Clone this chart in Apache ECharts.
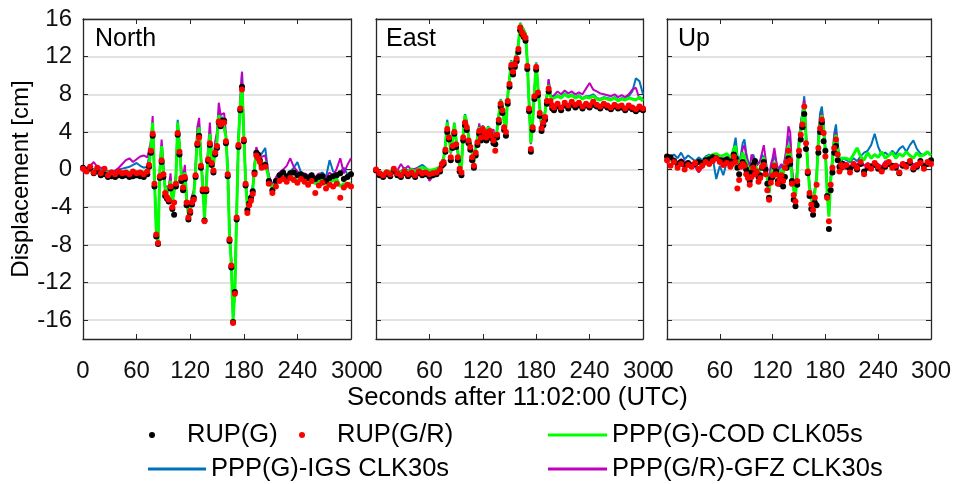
<!DOCTYPE html>
<html><head><meta charset="utf-8">
<script src="https://cdn.jsdelivr.net/npm/echarts@6/dist/echarts.min.js"></script>
<style>html,body{margin:0;padding:0;background:#fff}#c{width:954px;height:484px}</style>
</head><body><div id="c"></div>
<script>
const seconds = [0,4,8,12,16,20,24,28,32,36,40,44,48,52,56,60,64,68,72,
  74,76,78,80,82,84,86,88,90,92,94,96,98,100,102,104,106,108,110,112,114,116,118,120,122,124,126,128,130,132,134,136,138,140,142,144,146,148,150,152,154,156,158,160,162,164,166,168,170,172,174,176,178,180,182,184,186,188,190,192,194,196,198,200,
  204,208,212,216,220,224,228,232,236,240,244,248,252,256,260,264,268,272,276,280,284,288,292,296,300];
const panelTitles = ['North','East','Up'];
const seriesNames = ['RUP(G)','RUP(G/R)','PPP(G)-COD CLK05s','PPP(G)-IGS CLK30s','PPP(G/R)-GFZ CLK30s'];
const xTickStep = 60;
const yTickLabels = [-16,-12,-8,-4,0,4,8,12,16];

// ---- North ----
const northRupGR = [0.1,-0.2,0.3,-0.3,0.2,-0.4,0.1,-0.6,-0.3,-0.5,-0.2,-0.4,-0.3,-0.5,-0.2,-0.4,-0.3,-0.5,-0.2,
  0.5,2.0,3.8,-1.5,-6.9,-7.8,-0.7,1.0,-0.5,-2.5,-2.9,-3.2,-1.8,-4.0,-3.5,-1.5,3.9,1.9,-0.9,-1.9,-0.8,-3.5,-5.1,-4.4,-3.5,-3.2,-0.6,2.8,3.4,0.4,-2.1,-5.5,-2.1,1.1,2.8,0.7,-0.1,1.8,2.5,5.1,4.8,5.0,5.0,3.0,-0.5,-7.4,-10.2,-16.3,-13.2,-5.1,2.6,6.5,8.5,3.2,-1.5,-4.6,-3.8,-3.3,-2.6,-0.5,1.5,1.2,0.8,0.2,
  0.3,-1.5,-2.5,-1.8,-1.2,-1.0,-1.3,-0.9,-1.1,-1.4,-1.0,-1.3,-1.6,-1.2,-2.5,-1.7,-1.4,-2.0,-1.6,-1.8,-1.5,-3.0,-1.9,-1.6,-1.8];
const northRupG = [0.2,-0.1,0.1,-0.4,-0.2,-0.6,-0.5,-0.8,-0.7,-0.8,-0.6,-0.7,-0.6,-0.8,-0.7,-0.6,-0.7,-0.8,-0.5,
  0.3,1.8,3.6,-1.8,-7.1,-7.9,-0.9,0.8,-0.8,-2.8,-3.1,-3.4,-2.0,-4.2,-4.8,-1.8,3.7,1.6,-1.2,-2.2,-1.0,-3.8,-5.3,-4.6,-3.7,-3.0,-0.8,2.6,3.6,0.2,-2.3,-5.4,-2.3,0.9,2.6,0.5,-0.3,1.6,2.3,5.0,4.6,5.2,5.2,2.8,-0.7,-7.6,-10.4,-16.2,-13.0,-5.3,2.4,6.3,8.8,3.0,-1.7,-4.3,-3.6,-3.0,-2.3,-0.3,1.8,1.6,1.0,0.4,
  0.5,-1.2,-2.2,-1.2,-0.6,-0.3,-0.7,-0.4,-0.3,-0.6,-0.5,-0.7,-0.9,-0.6,-1.0,-0.8,-0.7,-1.2,-0.9,-0.7,-0.6,-0.4,-1.0,-0.8,-0.5];
const northCod = [0.1,0.0,0.2,-0.2,0.0,-0.3,-0.2,-0.4,-0.3,-0.4,-0.3,-0.3,-0.2,-0.3,-0.2,-0.3,-0.2,-0.3,-0.1,
  0.4,2.5,5.0,-1.0,-6.5,-7.6,-0.3,2.5,0.0,-2.2,-2.6,-2.8,-1.2,-3.6,-3.8,-1.0,5.0,2.5,-0.6,-1.6,-0.3,-3.2,-4.8,-4.0,-3.2,-2.8,-0.2,3.5,4.5,1.0,-1.8,-5.2,-1.8,1.5,3.8,1.2,0.3,2.3,3.0,5.8,5.0,5.3,5.5,3.5,-0.2,-7.0,-10.0,-16.0,-13.0,-4.8,3.0,6.8,9.0,3.6,-1.2,-4.1,-3.4,-3.0,-2.2,0.2,1.8,1.6,1.2,0.5,
  0.8,-1.0,-2.0,-1.3,-1.0,-0.8,-1.1,-0.7,-0.9,-1.2,-0.9,-1.0,-1.3,-1.1,-1.5,-1.2,-1.0,-1.6,-1.3,-1.2,-1.0,-1.8,-1.5,-1.6,-1.4];
const northIgs = [0.2,0.1,0.3,0.0,0.2,-0.1,0.0,-0.2,-0.1,-0.2,0.0,0.1,0.2,0.3,0.5,0.7,0.4,0.2,0.3,
  0.4,2.6,5.0,-1.0,-6.4,-7.5,-0.2,2.6,0.1,-2.1,-2.5,-2.6,-1.0,-3.5,-3.7,-0.8,5.3,2.7,-0.5,-1.5,-0.2,-3.1,-4.6,-3.8,-3.0,-2.6,0.0,3.6,4.7,1.2,-1.6,-5.0,-1.6,1.7,4.0,1.3,0.4,2.5,3.3,6.2,5.3,5.6,5.8,3.6,0.0,-6.8,-9.8,-15.8,-12.8,-4.6,3.2,7.0,10.4,3.8,-1.0,-3.9,-3.2,-2.8,-2.0,0.4,2.0,1.8,1.4,1.5,
  2.3,-0.8,-1.8,-1.0,-0.5,-0.3,-0.6,-0.2,0.2,0.8,-0.3,-0.5,-0.6,-0.4,-0.9,-0.5,-0.3,-0.8,1.0,-0.2,-0.4,-0.3,0.2,-0.5,-0.3];
const northGfz = [-0.3,0.2,0.4,0.8,0.3,0.2,0.0,-0.3,-0.2,-0.1,0.2,0.6,1.0,1.2,0.8,1.1,1.4,1.5,1.3,
  1.2,3.0,5.7,-0.8,-6.2,-7.4,0.2,3.2,0.5,-1.8,-2.0,-1.8,-0.4,-3.2,-3.4,-0.5,4.8,2.6,0.2,-1.0,0.5,-2.8,-4.4,-3.5,-2.8,-2.2,0.5,4.5,5.5,1.5,-1.2,-4.8,-1.2,2.2,5.0,1.8,0.8,3.0,4.0,7.1,5.8,6.0,6.0,3.8,0.2,-6.6,-9.6,-15.6,-12.6,-4.4,3.4,7.4,10.4,4.0,-0.8,-3.7,-3.0,-2.6,-1.8,0.6,2.4,1.8,1.3,1.2,
  1.5,-0.6,-1.6,-0.8,-0.3,0.0,0.4,1.2,0.3,-0.2,-0.5,-0.4,-0.6,-0.5,-0.8,-0.4,-0.6,-0.9,-0.3,-0.7,0.1,1.2,-0.4,0.5,1.2];

// ---- East ----
const eastRupGR = [0.0,-0.4,-0.6,-0.3,-0.5,0.1,-0.4,-0.6,-0.2,-0.5,-0.3,-0.6,-0.2,-0.4,-0.3,-0.5,-0.4,-0.3,0.0,
  0.6,0.8,2.1,4.3,3.4,1.3,2.5,4.0,2.7,1.3,0.1,-0.3,3.4,5.0,4.5,3.1,2.4,1.3,0.4,1.8,2.9,4.1,3.4,4.3,3.9,3.4,4.0,4.1,3.6,3.1,2.0,3.7,5.3,7.0,6.3,4.5,4.0,7.3,9.1,11.1,10.4,11.2,11.8,12.8,15.1,14.6,14.3,14.0,11.0,6.5,2.2,4.5,7.8,10.9,8.2,6.0,4.4,5.0,5.6,7.3,8.6,7.3,6.8,6.6,
  7.0,6.6,7.1,6.8,7.2,6.9,7.1,6.7,7.0,6.8,7.2,6.9,6.7,7.0,6.8,6.6,6.9,6.7,6.8,6.5,6.8,6.6,6.4,6.7,6.5];
const eastRupG = [-0.1,-0.6,-0.8,-0.5,-0.7,-0.2,-0.6,-0.8,-0.4,-0.7,-0.5,-0.8,-0.4,-0.6,-0.5,-0.7,-0.6,-0.5,-0.2,
  0.4,0.6,1.9,4.0,3.2,1.0,2.3,3.8,2.4,1.0,-0.2,-0.6,3.1,4.7,4.2,2.8,2.1,1.0,0.2,1.5,2.6,3.8,3.1,4.0,3.6,3.1,3.7,3.8,3.3,2.8,2.7,3.4,5.0,6.7,6.0,4.2,3.6,7.0,8.8,10.8,10.1,10.9,11.5,12.5,14.8,14.4,14.1,13.7,10.7,6.2,1.9,4.2,7.5,10.6,7.9,5.7,4.1,4.7,5.3,7.0,8.3,7.0,6.5,6.3,
  6.7,6.3,6.8,6.5,6.9,6.6,6.8,6.5,6.8,6.6,6.9,6.7,6.5,6.8,6.6,6.4,6.7,6.5,6.6,6.3,6.6,6.4,6.2,6.4,6.3];
const eastCod = [0.0,-0.3,-0.4,-0.1,-0.3,0.1,-0.2,-0.3,0.0,-0.2,0.0,-0.2,0.1,0.2,0.1,-0.1,0.0,0.1,0.3,
  0.8,1.2,2.6,5.0,3.8,1.8,3.0,4.9,3.2,1.8,0.5,0.2,3.8,5.8,5.0,3.5,2.8,1.8,0.8,2.2,3.4,4.5,3.8,4.6,4.2,3.8,4.5,4.6,4.0,3.5,2.6,4.2,5.8,7.4,6.8,5.0,4.5,7.8,9.6,11.5,10.9,11.6,12.3,13.3,15.5,15.1,14.8,14.4,11.5,7.0,2.8,5.0,8.3,11.3,8.7,6.5,4.9,5.5,6.1,7.8,9.0,7.8,7.5,7.3,
  7.8,7.6,8.0,7.7,7.9,7.6,7.8,7.5,7.7,7.6,7.8,7.5,7.4,7.6,7.5,7.4,7.6,7.3,7.5,7.4,7.6,7.5,7.4,7.7,7.3];
const eastIgs = [0.0,-0.3,-0.4,-0.1,-0.2,0.2,-0.1,-0.2,0.2,-0.1,0.1,0.0,0.3,0.5,0.2,-0.6,-0.4,-0.1,0.2,
  0.9,1.3,2.8,5.3,3.9,1.9,3.1,5.0,3.3,1.9,0.6,0.3,3.9,5.9,5.1,3.6,2.9,1.9,0.9,2.3,3.5,4.7,3.9,4.7,4.3,3.9,4.6,4.7,4.1,3.6,2.7,4.3,5.9,7.5,6.9,5.1,4.6,7.9,9.7,11.6,11.0,11.7,12.4,13.4,15.6,15.2,14.9,14.5,11.6,7.1,2.9,5.1,8.4,11.4,8.8,6.6,5.0,5.6,6.2,8.0,9.5,8.0,7.6,7.4,
  7.9,7.7,8.1,7.8,8.0,7.7,7.9,7.6,7.8,7.8,8.0,7.6,7.5,7.7,7.6,7.5,7.7,7.4,7.6,7.5,7.8,8.3,9.7,9.4,8.0];
const eastGfz = [0.0,-0.3,-0.5,-0.2,-0.3,0.1,-0.1,0.6,0.0,0.4,-0.1,0.1,0.2,-0.2,0.0,-1.2,-0.7,-0.3,0.1,
  0.7,1.1,2.5,4.9,3.7,1.7,2.9,4.8,3.1,1.7,0.4,0.1,3.7,5.6,4.9,3.4,2.7,1.7,0.7,2.1,3.3,4.9,3.7,4.5,4.1,3.7,4.4,4.5,3.9,4.3,2.5,4.1,5.7,7.3,6.7,4.9,4.4,7.7,9.5,11.4,10.8,11.5,12.2,13.2,15.4,15.0,14.7,14.3,11.4,6.9,2.7,4.9,8.2,11.2,8.6,6.4,4.2,5.4,6.0,7.9,9.6,8.0,7.7,7.8,
  8.3,8.0,8.4,8.1,8.3,8.0,8.2,8.0,8.6,9.2,8.5,8.3,8.1,8.0,7.9,7.8,8.0,7.7,7.9,7.7,8.0,8.5,8.7,7.5,7.6];

// ---- Up ----
const upRupGR = [1.0,0.4,0.8,0.2,0.6,0.0,0.5,0.3,0.7,0.1,0.4,0.8,0.6,0.9,1.2,0.8,0.5,0.7,0.3,
  0.6,1.4,0.8,-2.0,-1.1,0.3,0.6,0.4,-0.5,-0.9,-1.6,-0.8,0.2,-0.5,-0.2,-1.3,-0.9,0.3,0.5,-0.5,-2.2,-3.2,-1.4,-0.6,0.4,-0.5,-1.5,-1.0,-0.6,-1.2,0.2,0.8,2.0,1.0,-1.5,-2.7,-3.4,-1.2,2.0,3.7,4.8,6.7,2.8,-0.2,-2.5,-3.7,-4.3,-3.0,-1.6,2.3,4.4,5.3,3.9,1.4,-3.0,-5.5,-1.6,0.2,2.3,3.2,1.6,-0.2,0.5,0.3,
  0.5,-0.3,0.6,0.2,0.8,-0.5,0.4,0.1,0.7,0.3,-0.2,0.5,0.8,0.2,0.4,-0.3,0.6,0.3,0.9,0.2,0.5,0.7,0.1,0.8,0.6];
const upRupG = [1.4,1.3,0.9,0.6,0.8,0.5,0.7,0.4,0.6,0.8,0.7,1.0,1.1,1.3,1.2,1.0,0.9,1.1,0.8,
  0.9,1.6,1.2,0.2,-0.5,0.4,0.8,0.5,0.0,-0.6,-1.2,-0.3,0.5,0.9,-0.5,-0.8,-0.6,0.2,0.8,0.0,-1.5,-3.0,-1.0,-0.8,0.3,-0.2,-1.2,-1.5,-0.8,-1.8,-0.8,0.2,1.2,0.6,-1.2,-3.2,-3.9,-1.6,1.5,3.2,4.5,5.9,2.2,-0.4,-2.8,-4.2,-4.8,-3.5,-3.8,1.8,4.0,5.0,3.0,2.0,-2.8,-6.3,-2.2,-0.3,1.8,2.5,1.0,0.3,0.2,0.6,
  0.3,0.1,0.4,0.0,0.6,-0.2,0.2,0.3,0.5,0.1,0.0,0.3,0.6,0.4,0.2,-0.4,0.4,0.5,0.7,0.0,0.3,0.9,0.4,0.6,1.0];
const upCod = [0.8,1.1,0.9,0.5,1.0,0.6,0.8,0.5,0.7,0.9,0.8,1.2,1.4,1.6,1.7,1.4,1.5,1.7,1.2,
  1.2,2.2,2.5,1.0,0.2,1.0,1.8,2.0,0.8,0.2,-0.5,0.3,1.0,0.5,0.1,-0.5,0.2,0.8,1.3,0.5,-1.0,-2.5,-0.6,0.0,0.8,0.2,-0.8,-0.5,0.0,-0.6,0.6,1.2,2.6,1.8,-0.8,-2.2,-2.8,-0.6,2.6,4.2,5.5,7.0,3.3,0.3,-2.0,-3.2,-3.6,-2.4,-1.0,2.8,5.0,5.8,4.2,1.8,-2.5,-5.0,-1.2,0.8,3.0,3.7,2.2,0.8,1.2,1.0,
  1.2,1.0,1.6,2.3,1.4,1.0,1.8,1.2,1.6,1.3,1.9,1.2,1.5,1.8,1.2,1.7,1.4,1.9,1.5,1.2,1.8,1.4,1.6,1.9,1.5];
const upIgs = [1.0,1.4,1.6,1.2,1.8,1.1,1.5,1.2,0.9,1.3,1.0,1.4,1.6,1.2,-1.0,0.4,-0.6,0.8,1.2,
  1.5,2.4,3.4,1.5,0.8,1.6,2.8,3.2,1.8,0.9,0.3,1.2,1.6,1.0,0.5,0.3,0.8,1.6,1.8,1.0,-0.5,-1.5,0.2,0.8,1.5,0.8,-0.2,0.1,0.4,0.0,1.0,2.0,3.6,3.0,-0.2,-1.6,-2.2,0.0,3.2,4.8,6.2,7.8,3.8,0.6,-1.6,-2.8,-3.3,-2.0,-0.6,3.6,6.0,6.7,4.8,2.4,-2.0,-4.6,-0.8,1.4,3.8,4.8,2.8,1.2,0.8,1.2,
  1.0,0.8,1.2,0.9,1.4,1.8,2.0,2.6,3.8,2.4,1.6,1.8,1.5,2.0,1.6,2.2,2.5,1.9,2.6,3.1,2.2,1.7,1.5,1.8,1.6];
const upGfz = [0.6,1.0,1.2,0.8,1.1,0.9,0.5,0.7,0.3,-0.3,0.2,0.6,0.9,1.3,1.0,1.5,1.2,0.9,0.8,
  1.0,1.8,2.0,0.8,0.3,1.2,2.2,2.6,1.5,0.6,0.0,1.6,1.2,0.8,0.4,0.2,1.0,1.8,2.6,1.2,-0.3,-1.5,0.5,1.2,2.3,1.0,0.0,0.3,0.6,0.2,1.2,2.5,4.6,4.0,0.2,-1.4,-2.0,0.2,3.3,4.9,6.0,7.4,3.8,0.5,-1.8,-3.0,-3.4,-2.2,-0.8,3.2,5.4,6.0,4.4,2.0,-2.2,-4.8,-1.0,1.0,3.2,4.0,2.4,0.6,0.4,0.8,
  0.6,0.3,0.8,0.5,0.9,0.4,0.7,0.5,0.8,0.6,0.3,0.9,0.7,0.5,0.6,0.4,0.8,0.5,0.7,0.6,0.4,0.9,0.5,0.7,0.6];

const FONT = "'Liberation Sans', Arial, Helvetica, sans-serif";
const AXC = '#262626';
const panels = [
  {title: panelTitles[0], rupG: northRupG, rupGR: northRupGR, cod: northCod, igs: northIgs, gfz: northGfz},
  {title: panelTitles[1], rupG: eastRupG, rupGR: eastRupGR, cod: eastCod, igs: eastIgs, gfz: eastGfz},
  {title: panelTitles[2], rupG: upRupG, rupGR: upRupGR, cod: upCod, igs: upIgs, gfz: upGfz}
];
const gridLefts = [83, 376, 667];
const gridWidths = [268, 267, 268];
const pairs = arr => seconds.map((t, k) => [t, arr[k]]);

const grid = [], xAxis = [], yAxis = [], series = [], title = [];
panels.forEach((p, i) => {
  grid.push({left: gridLefts[i], top: 19, width: gridWidths[i], height: 320, containLabel: false});
  const xBase = {gridIndex: i, type: 'value', min: 0, max: 300, interval: xTickStep,
    axisLine: {show: true, onZero: false, lineStyle: {color: AXC, width: 1.3}},
    axisTick: {show: true, inside: true, length: 5, lineStyle: {color: AXC, width: 1}},
    splitLine: {show: false}};
  xAxis.push(Object.assign({}, xBase, {position: 'bottom',
    axisLabel: {show: true, fontSize: 24, color: '#111', fontFamily: FONT, margin: 20}}));
  xAxis.push(Object.assign({}, xBase, {position: 'top', axisLabel: {show: false}}));
  const yBase = {gridIndex: i, type: 'value', min: -18, max: 16,
    axisLine: {show: true, onZero: false, lineStyle: {color: AXC, width: 1.3}},
    axisTick: {show: true, inside: true, length: 5, customValues: yTickLabels, lineStyle: {color: AXC, width: 1}}};
  const yLeft = Object.assign({}, yBase, {position: 'left',
    splitLine: {show: true, lineStyle: {color: '#d9d9d9', width: 1.5}},
    axisLabel: {show: i === 0, customValues: yTickLabels, fontSize: 24, color: '#111', fontFamily: FONT, margin: 11}});
  if (i === 0) {
    yLeft.name = 'Displacement [cm]';
    yLeft.nameLocation = 'middle';
    yLeft.nameGap = 50;
    yLeft.nameTextStyle = {fontSize: 24, color: '#000', fontFamily: FONT};
  }
  yAxis.push(yLeft);
  yAxis.push(Object.assign({}, yBase, {position: 'right', splitLine: {show: false}, axisLabel: {show: false}}));
  const ax = {xAxisIndex: 2 * i, yAxisIndex: 2 * i, animation: false};
  series.push(Object.assign({name: seriesNames[3], type: 'line', symbol: 'none', data: pairs(p.igs),
    lineStyle: {color: '#0072BD', width: 2}, itemStyle: {color: '#0072BD'}, z: 2}, ax));
  series.push(Object.assign({name: seriesNames[4], type: 'line', symbol: 'none', data: pairs(p.gfz),
    lineStyle: {color: '#BF00BF', width: 2}, itemStyle: {color: '#BF00BF'}, z: 3}, ax));
  series.push(Object.assign({name: seriesNames[2], type: 'line', symbol: 'none', data: pairs(p.cod),
    lineStyle: {color: '#00FF00', width: 3}, itemStyle: {color: '#00FF00'}, z: 4}, ax));
  series.push(Object.assign({name: seriesNames[0], type: 'scatter', symbol: 'circle', symbolSize: 6, data: pairs(p.rupG),
    itemStyle: {color: '#000000', opacity: 1}, z: 5}, ax));
  series.push(Object.assign({name: seriesNames[1], type: 'scatter', symbol: 'circle', symbolSize: 6, data: pairs(p.rupGR),
    itemStyle: {color: '#FF0000', opacity: 1}, z: 6}, ax));
  title.push({text: p.title, left: [95, 386, 678][i], top: 27, padding: 0,
    textStyle: {fontSize: 25, fontWeight: 'normal', color: '#000', fontFamily: FONT}});
});
title.push({text: 'Seconds after 11:02:00 (UTC)', left: 347, top: 385, padding: 0,
  textStyle: {fontSize: 25.7, fontWeight: 'normal', color: '#000', fontFamily: FONT}});

const legTxt = {fontSize: 25.5, color: '#000', fontFamily: FONT};
const legend = [
  {data: [seriesNames[0]], left: 149, top: 422, padding: 0, icon: 'circle', itemWidth: 6, itemHeight: 6,
    itemStyle: {opacity: 1}, textStyle: Object.assign({padding: [0, 0, 0, 27]}, legTxt), selectedMode: false},
  {data: [seriesNames[1]], left: 299, top: 422, padding: 0, icon: 'circle', itemWidth: 6, itemHeight: 6,
    itemStyle: {opacity: 1}, textStyle: Object.assign({padding: [0, 0, 0, 27]}, legTxt), selectedMode: false},
  {data: [seriesNames[2]], left: 548, top: 422, padding: 0, icon: 'rect', itemWidth: 59, itemHeight: 3,
    textStyle: legTxt, selectedMode: false},
  {data: [seriesNames[3]], left: 148, top: 456, padding: 0, icon: 'rect', itemWidth: 58, itemHeight: 3,
    textStyle: legTxt, selectedMode: false},
  {data: [seriesNames[4]], left: 548, top: 456, padding: 0, icon: 'rect', itemWidth: 59, itemHeight: 3,
    textStyle: legTxt, selectedMode: false}
];

const chart = echarts.init(document.getElementById('c'), null, {renderer: 'canvas'});
chart.setOption({backgroundColor: '#ffffff', animation: false, textStyle: {fontFamily: FONT},
  grid, xAxis, yAxis, series, title, legend});
</script></body></html>
